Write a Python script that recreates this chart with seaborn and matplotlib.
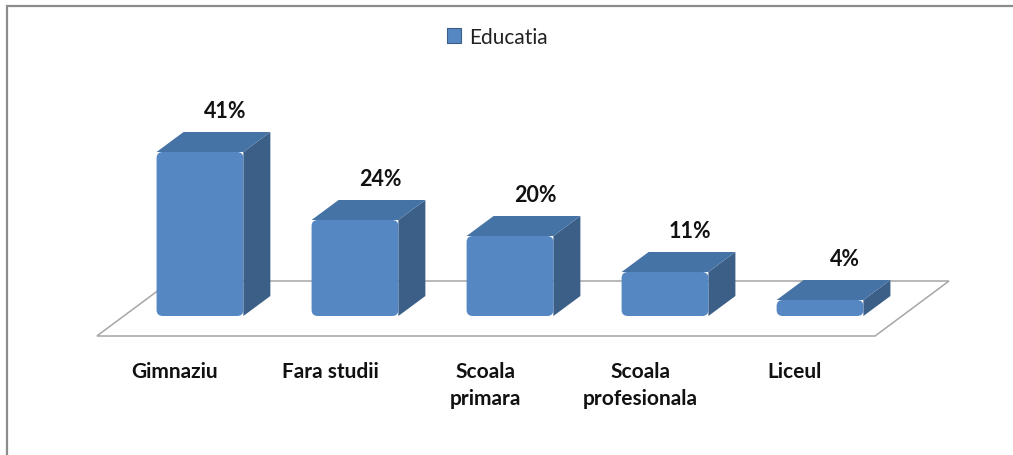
import matplotlib
matplotlib.use("Agg")
import matplotlib.pyplot as plt
import seaborn as sns
import pandas as pd
import numpy as np
from matplotlib.patches import Polygon, Rectangle, FancyBboxPatch, Patch

# Data
categories = ["Gimnaziu", "Fara studii", "Scoala\nprimara", "Scoala\nprofesionala", "Liceul"]
values = [41, 24, 20, 11, 4]
series_name = "Educatia"

front_color = "#5587C3"
side_color = "#3C5F87"
top_color = "#4673A5"

sns.set_theme(style="white")
plt.rcParams["font.family"] = ["Lato", "DejaVu Sans"]

df = pd.DataFrame({"cat": categories, "val": values})

fig = plt.figure(figsize=(10.13, 4.56), dpi=100)
ax = fig.add_axes([0, 0, 1, 1])
sns.barplot(data=df, x="cat", y="val", color=front_color, saturation=1, width=0.56,
            ax=ax, zorder=3, edgecolor="none", legend=False)
ax.set_xlim(-1.29, 5.245)
ax.set_ylim(-34.75, 79.25)
ax.axis("off")

# depth direction in pixels (right, up)
depth = np.array([27.0, 20.0])
floor_depth = np.array([74.0, 55.0])


def shifted(x, y, d):
    p = ax.transData.transform((x, y)) + d
    return ax.transData.inverted().transform(p)


# pixel -> data aspect for rounded corners
(px0, py0), (px1, py1) = ax.transData.transform([(0, 0), (1, 1)])
aspect = (px1 - px0) / (py1 - py0)

# Floor parallelogram
fl, fr, fy = -0.665, 4.355, -5
floor_pts = [(fl, fy), (fr, fy), shifted(fr, fy, floor_depth), shifted(fl, fy, floor_depth)]
ax.add_patch(Polygon(floor_pts, closed=True, fill=False, edgecolor="#a6a6a6", lw=1.1, zorder=1))

# 3D sides / tops for each bar, rounded front face
bars = [p for p in ax.patches if isinstance(p, Rectangle)]
for bar in bars:
    x0, w, h = bar.get_x(), bar.get_width(), bar.get_height()
    x1 = x0 + w
    side = [(x1, 0), (x1, h), shifted(x1, h, depth), shifted(x1, 0, depth)]
    top = [(x0, h), (x1, h), shifted(x1, h, depth), shifted(x0, h, depth)]
    ax.add_patch(Polygon(side, closed=True, facecolor=side_color, edgecolor="none", zorder=2))
    ax.add_patch(Polygon(top, closed=True, facecolor=top_color, edgecolor="none", zorder=2))
    bar.set_visible(False)
    ax.add_patch(FancyBboxPatch((x0, 0), w, h, boxstyle="round,pad=0,rounding_size=0.04",
                                mutation_aspect=aspect, facecolor=front_color,
                                edgecolor="none", zorder=3))

# Value labels
for i, v in enumerate(values):
    tx, ty = shifted(i, v, depth)
    ax.annotate(f"{v}%", (tx, ty), xytext=(-2, 21), textcoords="offset pixels",
                ha="center", va="center", fontsize=15.5, fontweight="bold", color="#111111")

# Category labels
for i, c in enumerate(categories):
    ax.annotate(c, (i, 0), xytext=(-25, -45), textcoords="offset pixels",
                ha="center", va="top", fontsize=15, fontweight="bold", color="#111111",
                linespacing=1.45)

# Legend
handle = Patch(facecolor=front_color, edgecolor=side_color, lw=0.8)
fig.legend([handle], [series_name], loc="center", bbox_to_anchor=(0.491, 0.917), frameon=False,
           fontsize=15, handlelength=0.7, handleheight=0.7, handletextpad=0.4,
           labelcolor="#222222")

# Chart frame
fig.add_artist(Rectangle((7 / 1013, -0.1), 1.1, (456 - 7) / 456 + 0.1, transform=fig.transFigure,
                         fill=False, edgecolor="#8c8c8c", lw=1.6))

fig.savefig("out.png", dpi=100)
